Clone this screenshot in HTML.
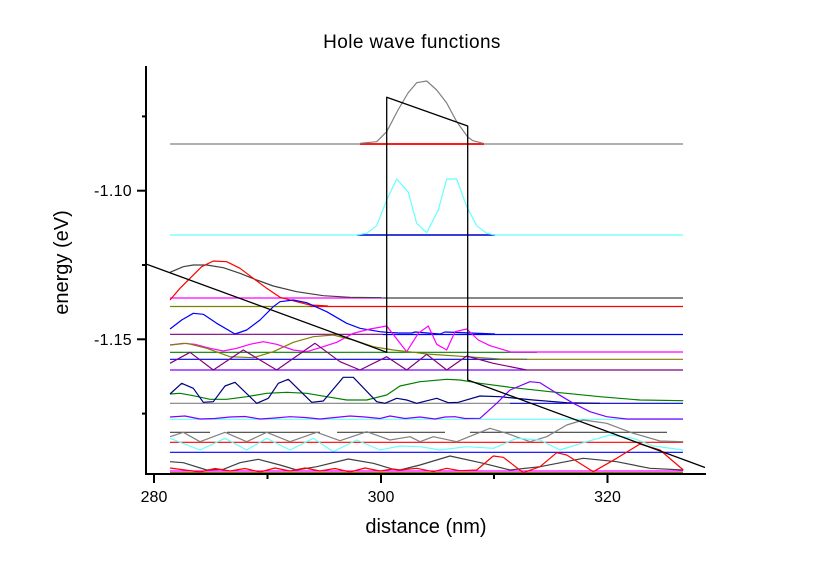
<!DOCTYPE html>
<html>
<head>
<meta charset="utf-8">
<style>
html,body{margin:0;padding:0;background:#fff;}
svg{display:block;}
text{font-family:"Liberation Sans",Arial,sans-serif;fill:#000;}
</style>
</head>
<body>
<svg width="816" height="570" viewBox="0 0 816 570" xmlns="http://www.w3.org/2000/svg">
<rect width="816" height="570" fill="#fff"/>
<text x="412" y="48" font-size="19" text-anchor="middle" letter-spacing="0.4">Hole wave functions</text>

<g fill="none" stroke-width="1.2" stroke-linejoin="round">
<!-- Series 1 (y=144) -->
<line x1="170" y1="144" x2="683" y2="144" stroke="#808080"/>
<line x1="360" y1="144" x2="484" y2="144" stroke="#ff0000" stroke-width="1.8"/>
<polyline stroke="#808080" points="360,143.3 376.7,141.7 386.7,131.7 398,110 408,93 416.7,82.7 426.7,81 436.7,90 446.7,103 456.7,121.7 467.7,137 473,140.7 483,143.3"/>

<!-- Series 2 (y=235) -->
<line x1="170" y1="235" x2="683" y2="235" stroke="#66ffff"/>
<line x1="357" y1="235" x2="495" y2="235" stroke="#0000cc" stroke-width="1.5"/>
<polyline stroke="#66ffff" points="356.7,235 366.7,233.3 376.7,225.7 386.7,200 396.7,179 408.3,192.3 416.7,223.3 426.7,232.7 438.3,210 446.7,179 456.7,179 466.7,206.7 476.7,225.7 486.7,233.3 495,235"/>

<!-- Series 3 (y=298) -->
<line x1="170" y1="298" x2="383" y2="298" stroke="#ff00ff"/>
<line x1="383" y1="298" x2="683" y2="298" stroke="#404040"/>
<polyline stroke="#404040" points="170,272.3 183.3,266.7 193.3,265 206.7,265 223.3,267.7 240,273.3 256.7,280 273.3,286 296.7,291.7 323.3,295.7 350,297.3 381.7,297.7"/>

<!-- Series 4 (y=306.7) -->
<line x1="170" y1="306.5" x2="310" y2="306.5" stroke="#808000"/>
<line x1="310" y1="306.5" x2="683" y2="306.5" stroke="#ff0000"/>
<polyline stroke="#ff0000" points="170,300 180,288.3 190,278.3 201.7,266.7 213.3,261 226.7,261.7 240,268.3 253.3,278.3 266.7,288.3 280,297.3 296.7,301.7 310,305 328,306"/>

<!-- Series 5 (y=334) -->
<line x1="170" y1="334.3" x2="383" y2="334.3" stroke="#800080"/>
<line x1="383" y1="334.5" x2="683" y2="334.5" stroke="#0000ff"/>
<polyline stroke="#0000ff" points="170,329 181.7,320 193.3,313.3 203.3,314.3 216.7,323.3 235,334 246.7,330 260,320 273.3,306.7 280,301.7 293.3,300 306.7,302.7 326.7,311.7 346.7,323.3 360,328.3 380,331.7 386.7,332.3 400,333 412,333 415,332 440,334 445,332 470,333 495,334"/>

<!-- Series 6 (y=352) -->
<line x1="170" y1="352.3" x2="537" y2="352.3" stroke="#008000"/>
<line x1="510" y1="352" x2="683" y2="352" stroke="#ff00ff"/>
<polyline stroke="#ff00ff" points="170,345 183.3,343.3 195,344.3 210,348.3 223.3,351 236.7,348.3 250,344.3 263.3,341.7 276.7,344.3 293.3,350 306.7,351.7 320,347.7 336.7,342.3 353.3,333.3 370,329 386.7,326 406.7,351.7 418.3,333.3 428.3,326 436.7,344.3 446.7,350 455,331.7 466.7,329 478.3,340 490,345.7 510,351.7"/>

<!-- Series 7 (y=359.3) -->
<line x1="170" y1="359.3" x2="527" y2="359.3" stroke="#0000ff"/>
<line x1="527" y1="359.3" x2="683" y2="359.3" stroke="#808000"/>
<polyline stroke="#808000" points="170,345 186.7,343.3 206.7,348.3 230,356.7 253.3,357.7 273.3,351.7 293.3,342.3 313.3,336.7 333.3,335 353.3,340 373.3,346.7 393.3,350 416.7,352.7 426.7,354 466.7,356.7 500,359 526.7,359.3"/>

<!-- Series 8 (y=370) -->
<line x1="170" y1="370" x2="527" y2="370" stroke="#8000ff"/>
<line x1="527" y1="370" x2="683" y2="370" stroke="#800080"/>
<polyline stroke="#800080" points="170,363.3 190,352.3 213.3,370 243.3,350 276.7,370 315,343.3 340,361.7 360,370 386.7,356.7 406.7,370 426.7,354.3 446.7,370 466.7,356 493.3,363.3 526.7,370"/>

<!-- Series 9 (y=400-403) -->
<line x1="170" y1="403.3" x2="510" y2="403.3" stroke="#808080"/>
<line x1="510" y1="403.3" x2="683" y2="403.3" stroke="#0000cc"/>
<polyline stroke="#008000" points="170,394 180,393.3 193.3,395.7 210,399.3 226.7,399.3 246.7,396.7 266.7,393.3 286.7,392.3 306.7,393.3 326.7,396.7 346.7,400 366.7,400 386.7,395 400,386 420,381.7 446.7,379.3 460,380 480,383.3 510,387.3 550,391.7 600,396.7 640,400 683.3,400.7"/>
<polyline stroke="#000080" points="170,394 181.7,383.3 193.3,388.3 203.3,402.3 213.3,401.7 225,386 235,382.3 256.7,403.3 268.3,398.3 278.3,383.3 288.3,379.3 311.7,402.3 323.3,401 343.3,377.3 353.3,377.3 376.7,401.7 385,403.3 396.7,398.3 406.7,400 416.7,403.3 436.7,398.3 448.3,402.7 458.3,402.3 480,396 500,396.7 533.3,400 566.7,402.7 600,403.3"/>

<!-- Series 10 (y=419) -->
<line x1="170" y1="419.3" x2="683" y2="419.3" stroke="#66ffff"/>
<polyline stroke="#8000ff" points="170,417 185,416 200,419 215,418.5 230,417 245,416.5 260,419 275,418 290,416.7 305,417.5 320,419 335,417.5 350,416 365,417 380,418.5 390,416 405,418.5 420,417 435,419 445,417 455,416.7 465,418.5 480,418.3 496.7,403.3 510,390 530,381.7 540,382.7 556.7,393.3 573.3,403.3 590,411.7 606.7,416.7 626.7,419 683,419"/>

<!-- Series 11 (y=432/442) -->
<g stroke="#404040">
<line x1="170" y1="432.3" x2="210" y2="432.3"/>
<line x1="227" y1="432.3" x2="320" y2="432.3"/>
<line x1="337" y1="432.3" x2="445" y2="432.3"/>
<line x1="470" y1="432.3" x2="667" y2="432.3"/>
</g>
<line x1="170" y1="442.3" x2="683" y2="442.3" stroke="#ff0000"/>
<polyline stroke="#808080" points="170,436.7 183.3,432.3 200,441.7 225,432.3 246.7,441.7 266.7,432.3 290,441.7 316.7,432.3 340,440.7 366.7,431.7 390,440 400,438.3 410,436.7 420,441.7 433.3,436.7 456.7,441.7 490,428.3 506.7,433.3 530,441.7 546.7,436.7 566.7,425 583.3,420 606.7,423.3 633.3,433.3 660,441 683.3,441.7"/>

<!-- Series 12 (y=450/452) -->
<polyline stroke="#66ffff" points="170,438.3 200,450 225,438.3 246.7,450 266.7,438.3 290,450 313.3,438.3 333.3,451.7 356.7,440 380,450 400,446 420,446.7 440,450 466.7,446.7 493.3,448.3 516.7,438.3 540,440 560,450 586.7,441.7 610,435 633.3,438.3 653.3,446 683.3,450"/>
<line x1="170" y1="452.3" x2="683" y2="452.3" stroke="#0000ff"/>

<!-- Series 13 (y=471) -->
<line x1="170" y1="472.6" x2="683" y2="472.6" stroke="#808000"/>
<line x1="170" y1="471" x2="683" y2="471" stroke="#ff00ff"/>
<polyline stroke="#404040" points="170,461.7 183.3,462.7 206.7,470 223.3,469.3 240,462.7 258.3,459.3 280,465 296.7,470 316.7,466.7 348.3,459 373.3,463.3 393.3,469.3 400,470 420,465 450,456 483.3,463.3 510,470 540,466.7 583.3,458.3 616.7,461.7 650,468.3 683.3,470"/>
<polyline stroke="#ff0000" points="170,468 185,470 200,472 215,468.5 230,471 245,468.5 260,472 275,468 290,471 305,468 320,471 335,468.5 350,472 365,468 380,471 393,469 400,470 416.7,468.3 433.3,471.7 446.7,468.3 460,470.7 476.7,470 493.3,456 503.3,457.3 523.3,472.7 540,466.7 556.7,452.7 566.7,455 593.3,471.7 616.7,458.3 640,444 660,450 683.3,470"/>

<!-- Band profile -->
<polyline stroke="#000" stroke-width="1.3" points="146,264 386.7,352.3 386.7,97.3 467.7,126 467.7,380 705,467.5"/>
</g>

<!-- Axes -->
<g stroke="#000" stroke-width="2" fill="none">
<line x1="146" y1="66" x2="146" y2="475"/>
<line x1="145" y1="474" x2="706" y2="474"/>
<line x1="137" y1="190.7" x2="146" y2="190.7"/>
<line x1="137" y1="339.3" x2="146" y2="339.3"/>
<line x1="142" y1="116.4" x2="146" y2="116.4"/>
<line x1="142" y1="265" x2="146" y2="265"/>
<line x1="142" y1="413.6" x2="146" y2="413.6"/>
<line x1="154" y1="474" x2="154" y2="483"/>
<line x1="381" y1="474" x2="381" y2="483"/>
<line x1="607.5" y1="474" x2="607.5" y2="483"/>
<line x1="267.5" y1="474" x2="267.5" y2="479"/>
<line x1="494" y1="474" x2="494" y2="479"/>
</g>

<text x="132" y="196" font-size="16" text-anchor="end" letter-spacing="0.3">-1.10</text>
<text x="132" y="345" font-size="16" text-anchor="end" letter-spacing="0.3">-1.15</text>
<text x="154" y="502" font-size="16" text-anchor="middle">280</text>
<text x="381" y="502" font-size="16" text-anchor="middle">300</text>
<text x="607.5" y="502" font-size="16" text-anchor="middle">320</text>
<text x="426" y="533" font-size="20" text-anchor="middle">distance (nm)</text>
<text transform="translate(68,262.5) rotate(-90)" font-size="20" text-anchor="middle">energy (eV)</text>
</svg>
</body>
</html>
